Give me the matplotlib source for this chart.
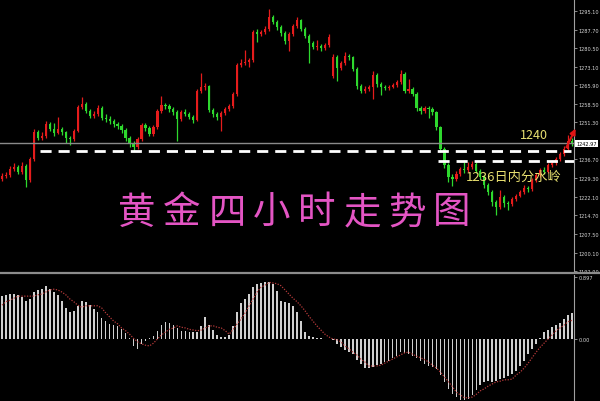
import matplotlib
matplotlib.use("Agg")
import matplotlib.pyplot as plt
import matplotlib.transforms as mtransforms
import numpy as np

# gold 4H candles (oldest -> newest)
closes = [1230.2, 1230.6, 1232.9, 1233.7, 1231.8, 1234.1, 1228.6, 1236.9, 1247.5, 1245.1,
          1245.9, 1250.6, 1248.7, 1247.1, 1248.7, 1247.5, 1245.1, 1244.7, 1247.9, 1257.3,
          1258.5, 1255.7, 1253.8, 1254.5, 1256.9, 1253.0, 1252.6, 1251.8, 1250.6, 1249.8,
          1248.3, 1245.1, 1242.8, 1241.6, 1244.7, 1250.2, 1249.0, 1246.7, 1249.4, 1255.7,
          1258.1, 1257.7, 1256.5, 1255.3, 1252.6, 1255.3, 1254.5, 1253.4, 1252.2, 1263.6,
          1265.1, 1265.5, 1256.1, 1254.5, 1253.4, 1254.9, 1256.5, 1257.7, 1262.4, 1273.8,
          1274.6, 1275.0, 1275.7, 1286.7, 1285.9, 1286.7, 1287.9, 1292.6, 1290.7, 1288.7,
          1286.3, 1283.2, 1285.9, 1289.1, 1291.4, 1287.9, 1285.2, 1282.4, 1280.9, 1281.2,
          1280.5, 1281.6, 1284.8, 1277.0, 1272.6, 1274.6, 1277.3, 1276.9, 1272.2, 1265.5,
          1263.6, 1264.4, 1265.1, 1269.9, 1266.3, 1265.1, 1264.8, 1265.1, 1265.9, 1267.1,
          1270.3, 1263.6, 1264.4, 1262.4, 1256.9, 1255.7, 1256.9, 1256.5, 1255.3, 1249.4,
          1240.8, 1234.5, 1229.8, 1229.0, 1231.0, 1232.9, 1232.4, 1233.7, 1234.9, 1232.2,
          1229.8, 1226.7, 1223.9, 1220.0, 1218.0, 1222.0, 1219.6, 1219.2, 1221.2, 1222.4,
          1223.9, 1225.5, 1224.9, 1228.6, 1230.6, 1232.6, 1231.8, 1234.5, 1235.3, 1236.9,
          1238.8, 1240.8, 1243.9, 1242.97]
first_open = 1229.0
gap_opens = {83: 1269.5}  # weekend gap

highs = [1231.5, 1231.8, 1234.0, 1235.2, 1234.5, 1235.5, 1234.8, 1237.6, 1248.6, 1248.3,
         1247.4, 1251.8, 1251.3, 1250.9, 1253.3, 1249.6, 1248.0, 1246.0, 1248.8, 1258.2,
         1261.2, 1259.3, 1256.6, 1255.9, 1258.0, 1257.8, 1254.4, 1253.6, 1252.7, 1251.5,
         1250.6, 1249.0, 1245.9, 1243.8, 1245.5, 1251.0, 1251.2, 1249.8, 1250.3, 1256.6,
         1261.6, 1259.0, 1258.5, 1257.3, 1256.2, 1256.2, 1256.4, 1255.3, 1254.2, 1264.4,
         1270.8, 1266.8, 1266.0, 1257.0, 1255.3, 1255.8, 1257.4, 1258.6, 1263.3, 1274.6,
         1276.2, 1279.5, 1276.6, 1287.5, 1288.0, 1287.6, 1289.0, 1295.8, 1293.6, 1291.5,
         1289.5, 1287.0, 1286.7, 1290.0, 1292.8, 1292.0, 1288.6, 1285.9, 1283.2, 1283.7,
         1282.0, 1282.6, 1286.0, 1278.0, 1277.8, 1275.5, 1279.0, 1278.0, 1277.5, 1272.9,
         1266.3, 1265.5, 1266.0, 1271.5, 1270.6, 1267.0, 1266.0, 1266.0, 1266.9, 1268.0,
         1271.8, 1271.0, 1268.3, 1265.2, 1263.0, 1257.6, 1257.8, 1257.6, 1257.4, 1255.9,
         1250.0, 1241.5, 1235.3, 1230.9, 1232.0, 1233.8, 1235.5, 1235.8, 1236.0, 1235.6,
         1233.0, 1230.6, 1227.5, 1224.6, 1220.8, 1224.6, 1222.8, 1220.4, 1222.0, 1223.3,
         1224.8, 1226.5, 1226.3, 1229.5, 1231.5, 1233.5, 1233.6, 1235.4, 1236.6, 1237.8,
         1239.6, 1241.9, 1246.3, 1245.0]

lows = [1228.2, 1229.4, 1230.0, 1232.0, 1230.9, 1231.0, 1226.0, 1228.0, 1236.2, 1244.2,
        1244.5, 1245.2, 1247.9, 1246.0, 1246.5, 1246.2, 1243.0, 1242.3, 1244.0, 1247.3,
        1256.5, 1254.8, 1252.8, 1253.0, 1253.8, 1252.0, 1251.5, 1250.8, 1249.4, 1248.6,
        1247.2, 1244.0, 1241.4, 1240.0, 1240.8, 1243.9, 1247.9, 1245.8, 1245.9, 1248.8,
        1255.0, 1256.6, 1255.4, 1254.2, 1244.0, 1251.8, 1253.6, 1252.4, 1251.0, 1251.6,
        1262.8, 1263.9, 1255.2, 1253.4, 1252.0, 1247.8, 1254.1, 1255.8, 1257.0, 1261.8,
        1272.9, 1273.9, 1273.0, 1275.0, 1283.0, 1285.0, 1286.0, 1287.2, 1289.9, 1287.6,
        1285.3, 1282.0, 1279.3, 1285.2, 1288.5, 1287.0, 1284.3, 1274.4, 1280.0, 1279.8,
        1279.2, 1279.5, 1281.0, 1268.8, 1267.5, 1271.8, 1273.9, 1275.9, 1271.3, 1264.5,
        1262.6, 1262.8, 1263.6, 1260.6, 1265.3, 1262.0, 1263.8, 1263.9, 1264.7, 1265.2,
        1266.4, 1262.6, 1262.9, 1261.5, 1255.9, 1254.7, 1254.9, 1253.0, 1254.3, 1248.4,
        1239.6, 1233.3, 1228.0, 1226.2, 1228.2, 1230.1, 1231.5, 1231.6, 1233.0, 1231.3,
        1228.9, 1225.6, 1222.6, 1218.5, 1214.8, 1217.4, 1218.2, 1217.0, 1218.5, 1220.5,
        1221.8, 1223.2, 1224.0, 1224.3, 1227.9, 1229.9, 1230.8, 1231.2, 1233.6, 1234.6,
        1236.0, 1238.0, 1240.0, 1242.0]

# MACD histogram and signal line
macd_hist = [0.62, 0.64, 0.65, 0.65, 0.64, 0.61, 0.55, 0.58, 0.68, 0.71,
             0.72, 0.77, 0.72, 0.68, 0.64, 0.55, 0.45, 0.39, 0.41, 0.48,
             0.55, 0.54, 0.49, 0.43, 0.39, 0.30, 0.26, 0.22, 0.20, 0.19,
             0.14, 0.09, 0.01, -0.10, -0.14, -0.07, -0.03, 0.01, 0.04, 0.12,
             0.20, 0.25, 0.23, 0.20, 0.16, 0.12, 0.12, 0.10, 0.10, 0.10,
             0.19, 0.32, 0.20, 0.13, 0.06, 0.03, 0.03, 0.06, 0.19, 0.39,
             0.52, 0.58, 0.65, 0.75, 0.80, 0.81, 0.82, 0.82, 0.80, 0.69,
             0.55, 0.54, 0.52, 0.48, 0.39, 0.26, 0.10, 0.04, 0.03, 0.01,
             0.01, 0.005, 0.003, -0.01, -0.07, -0.12, -0.16, -0.19, -0.22, -0.30,
             -0.36, -0.42, -0.42, -0.41, -0.38, -0.36, -0.33, -0.32, -0.27, -0.25,
             -0.19, -0.20, -0.22, -0.25, -0.27, -0.32, -0.36, -0.39, -0.41, -0.43,
             -0.52, -0.62, -0.72, -0.80, -0.84, -0.88, -0.88, -0.87, -0.81, -0.74,
             -0.67, -0.62, -0.61, -0.62, -0.61, -0.58, -0.56, -0.54, -0.51, -0.46,
             -0.39, -0.32, -0.22, -0.14, -0.07, 0.01, 0.10, 0.13, 0.17, 0.20,
             0.23, 0.29, 0.35, 0.38]

macd_signal = [0.49, 0.54, 0.56, 0.59, 0.62, 0.62, 0.62, 0.62, 0.62, 0.64,
               0.65, 0.68, 0.71, 0.72, 0.71, 0.68, 0.64, 0.58, 0.54, 0.49,
               0.46, 0.48, 0.48, 0.48, 0.48, 0.45, 0.38, 0.32, 0.26, 0.22,
               0.16, 0.12, 0.07, 0.01, -0.04, -0.07, -0.09, -0.10, -0.06, 0.0,
               0.06, 0.10, 0.14, 0.16, 0.19, 0.17, 0.16, 0.14, 0.13, 0.12,
               0.13, 0.16, 0.19, 0.19, 0.17, 0.16, 0.12, 0.07, 0.14, 0.22,
               0.29, 0.38, 0.48, 0.58, 0.68, 0.75, 0.78, 0.82, 0.81, 0.80,
               0.77, 0.71, 0.65, 0.59, 0.54, 0.48, 0.41, 0.33, 0.26, 0.19,
               0.13, 0.07, 0.03, 0.0, -0.01, -0.04, -0.10, -0.14, -0.19, -0.23,
               -0.29, -0.33, -0.39, -0.39, -0.39, -0.38, -0.35, -0.32, -0.29, -0.26,
               -0.23, -0.20, -0.19, -0.22, -0.25, -0.27, -0.30, -0.33, -0.38, -0.42,
               -0.48, -0.55, -0.62, -0.69, -0.77, -0.81, -0.85, -0.85, -0.84, -0.80,
               -0.75, -0.72, -0.68, -0.65, -0.62, -0.61, -0.59, -0.59, -0.58, -0.52,
               -0.48, -0.42, -0.35, -0.27, -0.19, -0.12, -0.06, 0.0, 0.06, 0.12,
               0.16, 0.20, 0.25, 0.27]

# 1243.90 sits under the current price box, so it is left out
price_ticks = [1295.10, 1287.70, 1280.50, 1273.10, 1265.90, 1258.50, 1251.30,
               1236.70, 1229.30, 1222.10, 1214.70, 1207.50, 1200.10, 1192.90]
last_price = 1242.97
level_1240 = 1240
level_1236 = 1236
title = "黄金四小时走势图"
label_1240 = "1240"
label_1236 = "1236日内分水岭"
macd_top = 0.897

cjk = ["Noto Sans CJK SC", "DejaVu Sans"]
up_col = "#e51c1c"
down_col = "#2ed82e"
grid_col = "#8a8a8a"

opens = [first_open] + closes[:-1]
for k, v in gap_opens.items():
    opens[k] = v

n = len(closes)
x = np.arange(n)
o = np.array(opens)
c = np.array(closes)
colors = [up_col if cc >= oo else down_col for oo, cc in zip(o, c)]

fig = plt.figure(figsize=(6, 4.02), dpi=100, facecolor="black")
ax = fig.add_axes([0, 1 - 273 / 402, 574 / 600, 273 / 402], facecolor="black")
ax2 = fig.add_axes([0, 0, 574 / 600, 126 / 402], facecolor="black")

# candles
ax.vlines(x, lows, highs, colors=colors, lw=0.9)
body_h = np.maximum(np.abs(c - o), 0.35)
ax.bar(x, body_h, bottom=np.minimum(o, c), width=0.55, color=colors, linewidth=0)

ax.set_xlim(-0.5, n - 0.5)
ax.set_ylim(1192.51, 1299.69)

# current price line and key levels
ax.axhline(last_price, color=grid_col, lw=1)
ax.hlines(level_1240, 9.5, 142.8, colors="white", lw=2, linestyles=(0, (4, 2.5)))
ax.hlines(level_1236, 109.5, 143.5, colors="white", lw=2, linestyles=(0, (4, 2.5)))
ax.text(133.5, 1246.4, label_1240, color="#e8e070", fontsize=9, ha="center", va="center",
        family=cjk)
ax.text(140.4, 1229.9, label_1236, color="#e8e070", fontsize=9.5, ha="right", va="center",
        family=cjk)

ax.annotate("", xy=(144.2, 1249.8), xytext=(141.3, 1240.5), annotation_clip=False,
            arrowprops=dict(arrowstyle="-|>", color="#e01515", lw=1.5,
                            mutation_scale=8))

# right price scale
for side in ["top", "left", "bottom"]:
    ax.spines[side].set_visible(False)
ax.spines["right"].set_color("#a0a0a0")
ax.spines["right"].set_linewidth(0.8)
ax.set_xticks([])
ax.yaxis.tick_right()
ax.set_yticks(price_ticks)
ax.set_yticklabels([f"{t:.2f}" for t in price_ticks])
ax.tick_params(axis="y", colors="#a0a0a0", labelcolor="#d8d8d8", labelsize=3.6,
               length=2, width=0.6, pad=1.5)
trans = mtransforms.blended_transform_factory(ax.transAxes, ax.transData)
ax.text(1.004, last_price, f"{last_price:.2f}", transform=trans, fontsize=3.6,
        color="black", va="center", ha="left",
        bbox=dict(boxstyle="square,pad=0.25", fc="white", ec="none"))

# big handwritten-style title
for k, ch in enumerate(title):
    fig.text((137 + 45 * k) / 600, 1 - 213 / 402, ch, color="#e455c4", fontsize=27,
             ha="center", va="center", family=cjk, fontweight="light")

# MACD panel
ax2.bar(x, macd_hist, width=0.42, color="#cfcfcf", linewidth=0)
ax2.plot(x, macd_signal, color="#b53a3a", lw=0.9, ls=(0, (1, 1.2)))
ax2.set_xlim(-0.5, n - 0.5)
ax2.set_ylim(-0.897, 0.926)
for side in ["top", "left", "bottom"]:
    ax2.spines[side].set_visible(False)
ax2.spines["right"].set_color("#a0a0a0")
ax2.spines["right"].set_linewidth(0.8)
ax2.set_xticks([])
ax2.yaxis.tick_right()
ax2.set_yticks([macd_top, 0])
ax2.set_yticklabels([f"{macd_top:.3f}", "0.00"])
ax2.tick_params(axis="y", colors="#a0a0a0", labelcolor="#d8d8d8", labelsize=3.6,
                length=2, width=0.6, pad=1.5)

# separator between panels
fig.add_artist(plt.Line2D([0, 1], [1 - 274 / 402] * 2, color="#8c8c8c", lw=1.6))

fig.savefig("out.png", dpi=100, facecolor="black")
